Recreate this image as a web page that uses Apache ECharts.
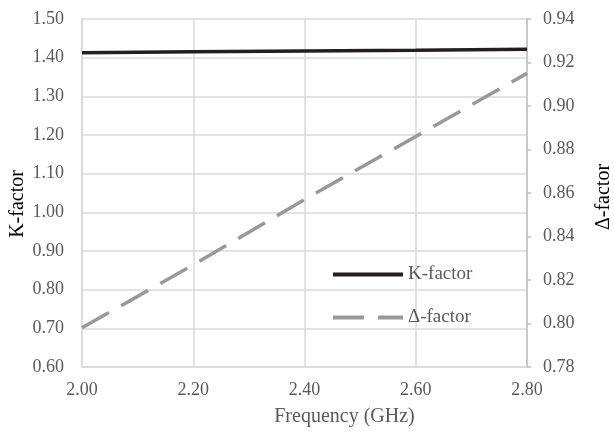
<!DOCTYPE html>
<html><head><meta charset="utf-8">
<script src="https://cdn.jsdelivr.net/npm/echarts@6/dist/echarts.min.js"></script>
<style>html,body{margin:0;padding:0;background:#fff}#c{width:614px;height:432px}</style>
</head><body><div id="c"></div>
<script>
const freq = [2.0, 2.2, 2.4, 2.6, 2.8];
const kFactor = [1.413, 1.415, 1.417, 1.419, 1.422];
const deltaFactor = [0.798, 0.827, 0.857, 0.886, 0.915];
const xTicks = {min: 2.0, max: 2.8, interval: 0.2};
const kTicks = {min: 0.6, max: 1.5, interval: 0.1};
const dTicks = {min: 0.78, max: 0.94, interval: 0.02};

const font = 'Liberation Serif';
const chart = echarts.init(document.getElementById('c'), null, {renderer: 'canvas'});
chart.setOption({
  animation: false,
  textStyle: {fontFamily: font},
  grid: {left: 82, right: 87, top: 19, bottom: 65, containLabel: false, outerBoundsMode: 'none'},
  legend: {
    orient: 'vertical', left: 326, top: 260, itemWidth: 70, itemHeight: 20, itemGap: 24,
    textStyle: {fontFamily: font, fontSize: 19, color: '#595959'},
    itemStyle: {opacity: 0},
    lineStyle: {width: 4},
    data: ['K-factor', 'Δ-factor']
  },
  xAxis: {
    type: 'value', min: xTicks.min, max: xTicks.max, interval: xTicks.interval,
    name: 'Frequency (GHz)', nameLocation: 'middle', nameGap: 40, nameMoveOverlap: false,
    nameTextStyle: {fontFamily: font, fontSize: 20, color: '#595959', padding: [0, 0, 0, 80]},
    axisLine: {show: true, lineStyle: {color: '#d9d9d9', width: 1.5}},
    axisTick: {show: false},
    axisLabel: {fontFamily: font, fontSize: 18, color: '#595959', margin: 14,
      formatter: v => v.toFixed(2)},
    splitLine: {show: true, lineStyle: {color: '#d9d9d9', width: 1.5}}
  },
  yAxis: [{
    type: 'value', min: kTicks.min, max: kTicks.max, interval: kTicks.interval,
    name: 'K-factor', nameLocation: 'middle', nameGap: 54, nameRotate: 90, nameMoveOverlap: false,
    nameTextStyle: {fontFamily: font, fontSize: 20, color: '#000', padding: [0, 22, 0, 0]},
    axisLine: {show: true, lineStyle: {color: '#d9d9d9', width: 1.5}},
    axisTick: {show: false},
    axisLabel: {fontFamily: font, fontSize: 18, color: '#595959', margin: 18,
      formatter: v => v.toFixed(2)},
    splitLine: {show: true, lineStyle: {color: '#d9d9d9', width: 1.5}}
  }, {
    type: 'value', position: 'right', min: dTicks.min, max: dTicks.max, interval: dTicks.interval,
    name: 'Δ-factor', nameLocation: 'middle', nameGap: 67, nameRotate: 90, nameMoveOverlap: false,
    nameTextStyle: {fontFamily: font, fontSize: 20, color: '#000', padding: [0, 8, 0, 0]},
    axisLine: {show: true, lineStyle: {color: '#bfbfbf', width: 1.5}},
    axisTick: {show: true, length: 4, inside: false, lineStyle: {color: '#bfbfbf', width: 1.5}},
    axisLabel: {fontFamily: font, fontSize: 18, color: '#595959', margin: 16,
      formatter: v => v.toFixed(2)},
    splitLine: {show: false}
  }],
  series: [{
    name: 'K-factor', type: 'line', yAxisIndex: 0, showSymbol: false, symbol: 'none',
    data: freq.map((f, i) => [f, kFactor[i]]),
    lineStyle: {color: '#231f20', width: 3.5},
    itemStyle: {color: '#231f20'}
  }, {
    name: 'Δ-factor', type: 'line', yAxisIndex: 1, showSymbol: false, symbol: 'none',
    data: freq.map((f, i) => [f, deltaFactor[i]]),
    lineStyle: {color: '#989898', width: 3.5, type: [31, 14], cap: 'butt'},
    itemStyle: {color: '#989898'}
  }]
});
</script></body></html>
